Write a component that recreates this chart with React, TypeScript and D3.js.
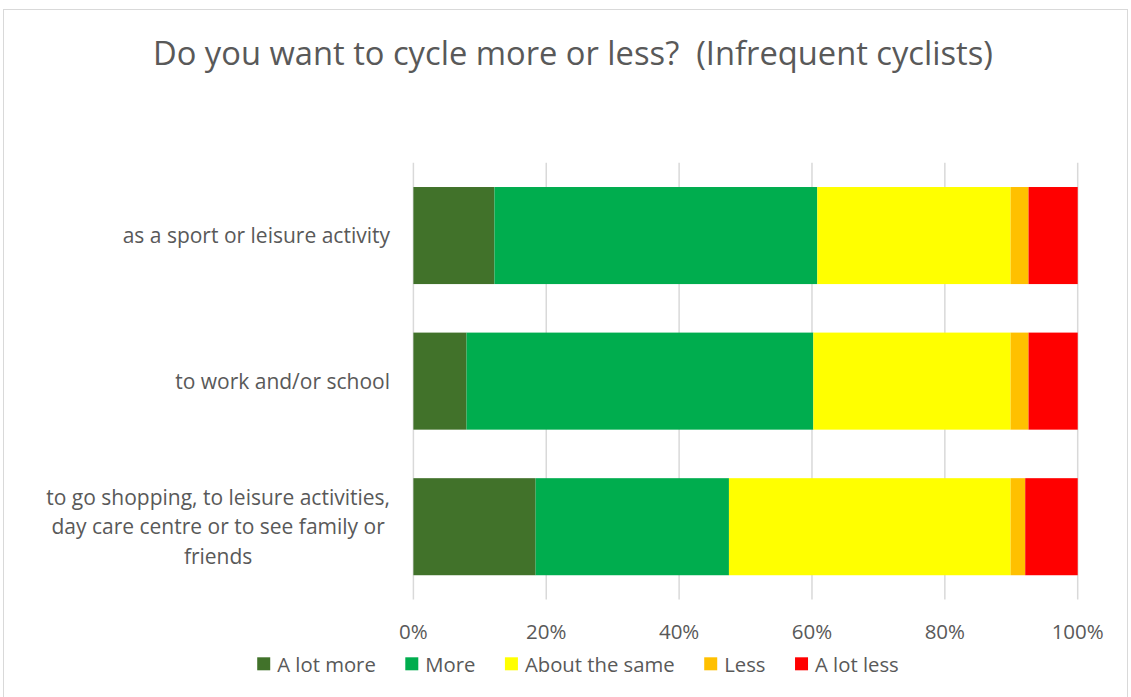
import React, { useEffect, useRef } from "react";
import * as d3 from "d3";

const categories = [
  "as a sport or leisure activity",
  "to work and/or school",
  "to go shopping, to leisure activities, day care centre or to see family or friends",
];
const categoryLines = [
  ["as a sport or leisure activity"],
  ["to work and/or school"],
  ["to go shopping, to leisure activities,", "day care centre or to see family or", "friends"],
];
const seriesNames = ["A lot more", "More", "About the same", "Less", "A lot less"];
const seriesColors = ["#41722a", "#00ad4e", "#ffff00", "#ffc000", "#ff0000"];
const aLotMore = [0.122, 0.08, 0.184];
const more = [0.486, 0.522, 0.291];
const aboutSame = [0.291, 0.297, 0.424];
const less = [0.027, 0.027, 0.022];
const aLotLess = [0.074, 0.074, 0.079];
const xTicks = [0, 0.2, 0.4, 0.6, 0.8, 1];
const title = "Do you want to cycle more or less?  (Infrequent cyclists)";

const FONT = "'Open Sans', sans-serif";
const TEXT = "#595959";

export default function App() {
  const ref = useRef<SVGSVGElement | null>(null);

  useEffect(() => {
    const svg = d3.select(ref.current);
    svg.selectAll("*").remove();
    const W = 1131, H = 697;

    svg.append("rect").attr("x", 0).attr("y", 0).attr("width", W).attr("height", H).attr("fill", "#fff");
    svg.append("rect").attr("x", 3.5).attr("y", 9.5).attr("width", 1124).attr("height", 700)
      .attr("fill", "#fff").attr("stroke", "#d9d9d9").attr("stroke-width", 1);

    const x = d3.scaleLinear().domain([0, 1]).range([413.4, 1077.7]);
    const y = d3.scaleBand<string>().domain(categories).range([162.75, 599.5]).paddingInner(1 / 3).paddingOuter(1 / 6);

    // gridlines
    svg.append("g").selectAll("line").data(xTicks).join("line")
      .attr("x1", d => x(d)).attr("x2", d => x(d))
      .attr("y1", 162.75).attr("y2", 599.5)
      .attr("stroke", "#d9d9d9").attr("stroke-width", 1.5);

    const rows = categories.map((c, i) => ({
      cat: c,
      "A lot more": aLotMore[i],
      "More": more[i],
      "About the same": aboutSame[i],
      "Less": less[i],
      "A lot less": aLotLess[i],
    }));
    const stacked = d3.stack<any>().keys(seriesNames)(rows);
    const color = d3.scaleOrdinal<string, string>().domain(seriesNames).range(seriesColors);

    svg.append("g").selectAll("g").data(stacked).join("g")
      .attr("fill", d => color(d.key))
      .selectAll("rect").data(d => d).join("rect")
      .attr("x", d => x(d[0]))
      .attr("width", d => x(d[1]) - x(d[0]))
      .attr("y", d => y(d.data.cat)!)
      .attr("height", y.bandwidth());

    // x tick labels
    svg.append("g").selectAll("text").data(xTicks).join("text")
      .attr("x", d => x(d)).attr("y", 638.5)
      .attr("text-anchor", "middle")
      .attr("font-family", FONT).attr("font-size", 20.5).attr("fill", TEXT)
      .text(d => d3.format(".0%")(d));

    // y labels (multi-line labels are centred as a block, right edge at 390)
    const lh = 29.3;
    const rightEdge = 390;
    categories.forEach((c, i) => {
      const lines = categoryLines[i];
      const cy = y(c)! + y.bandwidth() / 2;
      const t = svg.append("text")
        .attr("font-family", FONT).attr("font-size", 21).attr("fill", TEXT);
      const spans = lines.map((ln, j) =>
        t.append("tspan").attr("y", cy + 7.5 + (j - (lines.length - 1) / 2) * lh).text(ln)
      );
      if (lines.length === 1) {
        t.attr("text-anchor", "end");
        spans[0].attr("x", rightEdge);
      } else {
        const maxW = d3.max(spans, s => (s.node() as SVGTSpanElement).getComputedTextLength()) || 0;
        t.attr("text-anchor", "middle");
        spans.forEach(s => s.attr("x", rightEdge - maxW / 2));
      }
    });

    // title
    svg.append("text").attr("x", 573).attr("y", 64.5).attr("text-anchor", "middle")
      .style("white-space", "pre").attr("xml:space", "preserve")
      .attr("font-family", FONT).attr("font-size", 32.7).attr("fill", TEXT).text(title);

    // legend
    const lg = svg.append("g");
    const sw = 13, gapSw = 7, gapItem = 29.5;
    const items = seriesNames.map((n, i) => {
      const g = lg.append("g");
      g.append("rect").attr("width", sw).attr("height", sw).attr("y", 657.3).attr("fill", seriesColors[i]);
      const t = g.append("text").attr("x", sw + gapSw).attr("y", 671.7)
        .attr("font-family", FONT).attr("font-size", 20.3).attr("fill", TEXT).text(n);
      const w = (t.node() as SVGTextElement).getComputedTextLength();
      return { g, w: sw + gapSw + w };
    });
    const total = d3.sum(items, d => d.w) + gapItem * (items.length - 1);
    let cx = 578 - total / 2;
    items.forEach(it => {
      it.g.attr("transform", `translate(${cx},0)`);
      cx += it.w + gapItem;
    });
  }, []);

  return <svg ref={ref} width={1131} height={697} style={{ display: "block", position: "absolute", left: 0, top: 0 }} />;
}
